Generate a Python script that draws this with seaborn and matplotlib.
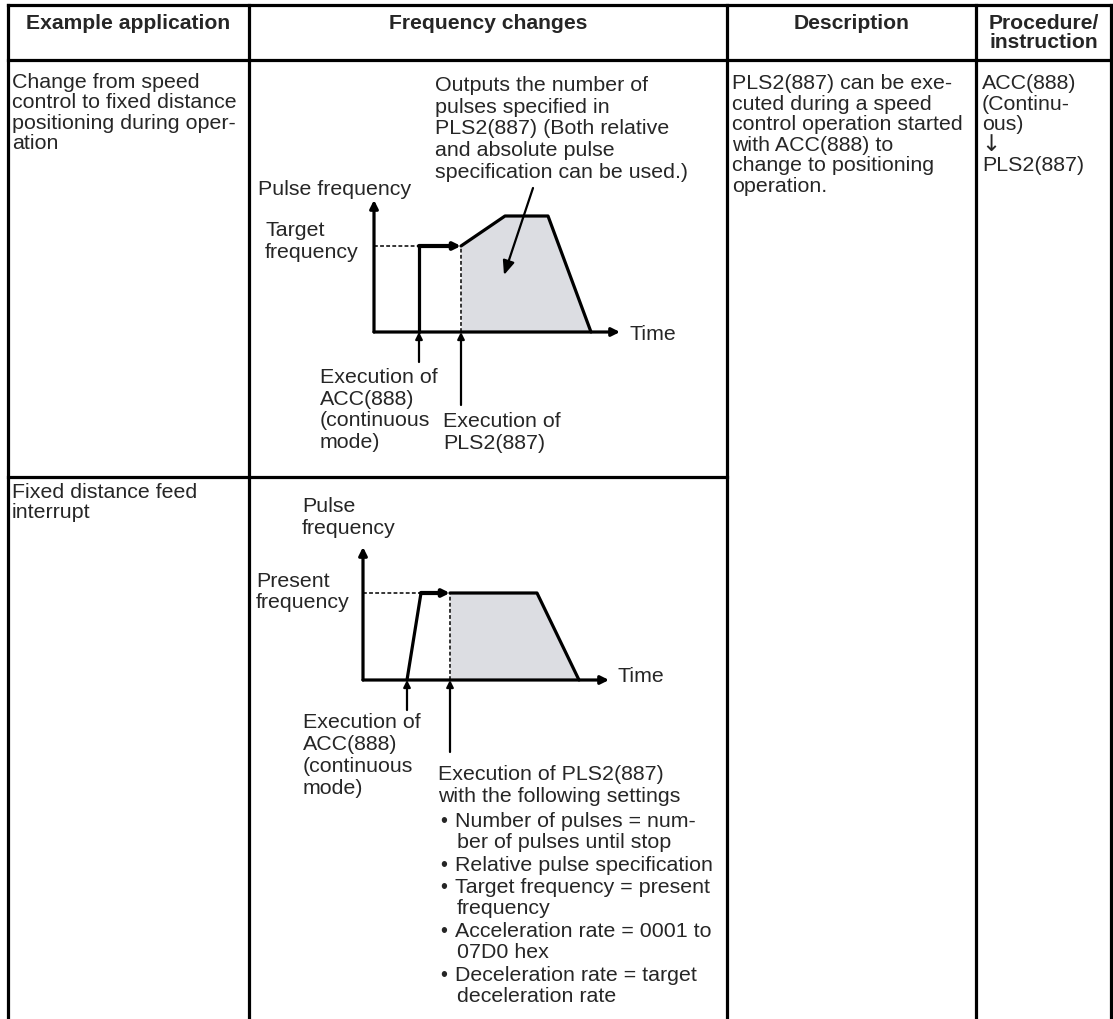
import numpy as np
import pandas as pd
import matplotlib
matplotlib.use("Agg")
import matplotlib.pyplot as plt
import seaborn as sns

sns.set_theme(style="white")
plt.rcParams["font.family"] = ["Liberation Sans", "DejaVu Sans"]

# ---------------- data ----------------
headers = ["Example application", "Frequency changes", "Description", "Procedure/\ninstruction"]
example_row1 = ["Change from speed", "control to fixed distance", "positioning during oper-", "ation"]
example_row2 = ["Fixed distance feed", "interrupt"]
description = ["PLS2(887) can be exe-", "cuted during a speed", "control operation started",
               "with ACC(888) to", "change to positioning", "operation."]
procedure = ["ACC(888)", "(Continu-", "ous)", "\u2193", "PLS2(887)"]

# Diagram 1 (time, frequency in diagram units)
d1_acc_t = [45, 45]
d1_acc_f = [0, 86]
d1_hold_t = [45, 87]
d1_hold_f = [86, 86]
d1_prof_t = [87, 131, 174, 217]
d1_prof_f = [86, 116, 116, 0]
d1_axis = (246, 132)
d1_exec_t = [45, 87]
d1_exec_len = [30, 73]
d1_note_from = (159, 144)
d1_note_to = (130, 57)

# Diagram 2
d2_acc_t = [44, 58]
d2_acc_f = [0, 87]
d2_hold_t = [58, 87]
d2_hold_f = [87, 87]
d2_prof_t = [87, 174, 216]
d2_prof_f = [87, 87, 0]
d2_axis = (246, 133)
d2_exec_t = [44, 87]
d2_exec_len = [30, 72]

W, H = 1113, 1019
fig = plt.figure(figsize=(W / 100, H / 100), dpi=100)
ax = fig.add_axes([0, 0, 1, 1])
ax.set_xlim(0, W)
ax.set_ylim(H, 0)
ax.axis("off")

LW_T = 2.3
FS = 15.4
FSH = 15.2
FILL = "#dcdde2"

# ---------------- table grid ----------------
for y, x0, x1 in [(5, 8, 1111), (60, 8, 1111), (477, 8, 727)]:
    ax.plot([x0, x1], [y, y], color="black", lw=LW_T, solid_capstyle="projecting")
for x in [8, 249, 727, 976, 1111]:
    ax.plot([x, x], [5, H + 5], color="black", lw=LW_T, solid_capstyle="projecting")

# headers
ax.text(128.5, 29, headers[0], ha="center", va="baseline", fontsize=FSH, fontweight="bold")
ax.text(488, 29, headers[1], ha="center", va="baseline", fontsize=FSH, fontweight="bold")
ax.text(851.5, 29, headers[2], ha="center", va="baseline", fontsize=FSH, fontweight="bold")
h4 = headers[3].split("\n")
ax.text(1043.5, 29, h4[0], ha="center", va="baseline", fontsize=FSH, fontweight="bold")
ax.text(1043.5, 48, h4[1], ha="center", va="baseline", fontsize=FSH, fontweight="bold")


def lines(x, y0, dy, items, **kw):
    for i, s in enumerate(items):
        if s == "\u2193":
            ax.text(x - 1, y0 + i * dy, s, ha="left", va="baseline", fontsize=FS + 1,
                    family=["DejaVu Sans"], **kw)
        else:
            ax.text(x, y0 + i * dy, s, ha="left", va="baseline", fontsize=FS, **kw)


lines(12, 88, 20.3, example_row1)
lines(12, 498, 20.3, example_row2)
lines(732, 89, 20.6, description)
lines(982, 89, 20.6, procedure)


# ---------------- diagrams ----------------
def make_dax(ox, oy):
    # ox, oy: pixel position of the diagram origin
    xl, xr, yb, yt = -12, 262, -82, 152
    left = (ox + xl) / W
    bottom = 1 - (oy - yb) / H
    dax = fig.add_axes([left, bottom, (xr - xl) / W, (yt - yb) / H])
    dax.set_xlim(xl, xr)
    dax.set_ylim(yb, yt)
    dax.axis("off")
    dax.patch.set_alpha(0)
    return dax


def arrow(dax, start, end, lw, ms, z=4, style="-|>"):
    dax.annotate("", xy=end, xytext=start, zorder=z,
                 arrowprops=dict(arrowstyle=style, lw=lw, color="black",
                                 mutation_scale=ms, shrinkA=0, shrinkB=0))


def draw_diagram(dax, acc_t, acc_f, hold_t, hold_f, prof_t, prof_f, axis, exec_t, exec_len):
    # fill
    dax.fill_between(prof_t, prof_f, 0, color=FILL, lw=0, zorder=1)
    # axes
    arrow(dax, (0, 0), (axis[0], 0), 2.3, 12)
    arrow(dax, (0, 0), (0, axis[1]), 2.3, 12)
    # dashed guides
    dax.plot([0, acc_t[-1]], [hold_f[0], hold_f[0]], color="black", lw=1.1, ls=(0, (2.5, 1.5)), zorder=2)
    dax.plot([prof_t[0], prof_t[0]], [0, prof_f[0]], color="black", lw=1.1, ls=(0, (2.5, 1.5)), zorder=2)
    # acceleration under ACC
    sns.lineplot(x=acc_t, y=acc_f, ax=dax, color="black", lw=2.3, sort=False, estimator=None, zorder=3)
    # holding at target -> arrow
    arrow(dax, (hold_t[0], hold_f[0]), (hold_t[1], hold_f[1]), 3.0, 10)
    # profile after PLS2
    sns.lineplot(x=prof_t, y=prof_f, ax=dax, color="black", lw=2.3, sort=False, estimator=None, zorder=3)
    # execution arrows
    for t, L in zip(exec_t, exec_len):
        arrow(dax, (t, -L), (t, 0), 1.6, 10)


d1 = make_dax(374, 332)
draw_diagram(d1, d1_acc_t, d1_acc_f, d1_hold_t, d1_hold_f, d1_prof_t, d1_prof_f, d1_axis, d1_exec_t, d1_exec_len)
arrow(d1, d1_note_from, d1_note_to, 1.6, 14, z=5, style="-|>,head_length=0.6,head_width=0.25")

d2 = make_dax(363, 680)
draw_diagram(d2, d2_acc_t, d2_acc_f, d2_hold_t, d2_hold_f, d2_prof_t, d2_prof_f, d2_axis, d2_exec_t, d2_exec_len)

# diagram 1 texts
lines(435, 91, 21.7, ["Outputs the number of", "pulses specified in", "PLS2(887) (Both relative",
                       "and absolute pulse", "specification can be used.)"])
lines(258, 195, 21.7, ["Pulse frequency"])
lines(265, 236, 21.7, ["Target", "frequency"])
lines(629, 340, 21.7, ["Time"])
lines(320, 383, 21.7, ["Execution of", "ACC(888)", "(continuous", "mode)"])
lines(443, 427, 21.7, ["Execution of", "PLS2(887)"])

# diagram 2 texts
lines(302, 512, 21.5, ["Pulse", "frequency"])
lines(256, 587, 21.5, ["Present", "frequency"])
lines(618, 682, 21.5, ["Time"])
lines(303, 728, 21.9, ["Execution of", "ACC(888)", "(continuous", "mode)"])
lines(438, 780, 22.0, ["Execution of PLS2(887)", "with the following settings"])

bullets = [
    (827, "Number of pulses = num-", "ber of pulses until stop"),
    (871, "Relative pulse specification", None),
    (893, "Target frequency = present", "frequency"),
    (937, "Acceleration rate = 0001 to", "07D0 hex"),
    (981, "Deceleration rate = target", "deceleration rate"),
]
for y, first, second in bullets:
    ax.text(440, y, "\u2022", ha="left", va="baseline", fontsize=FS - 1)
    ax.text(455, y, first, ha="left", va="baseline", fontsize=FS)
    if second:
        ax.text(457, y + 21.5, second, ha="left", va="baseline", fontsize=FS)

fig.savefig("out.png", dpi=100)
